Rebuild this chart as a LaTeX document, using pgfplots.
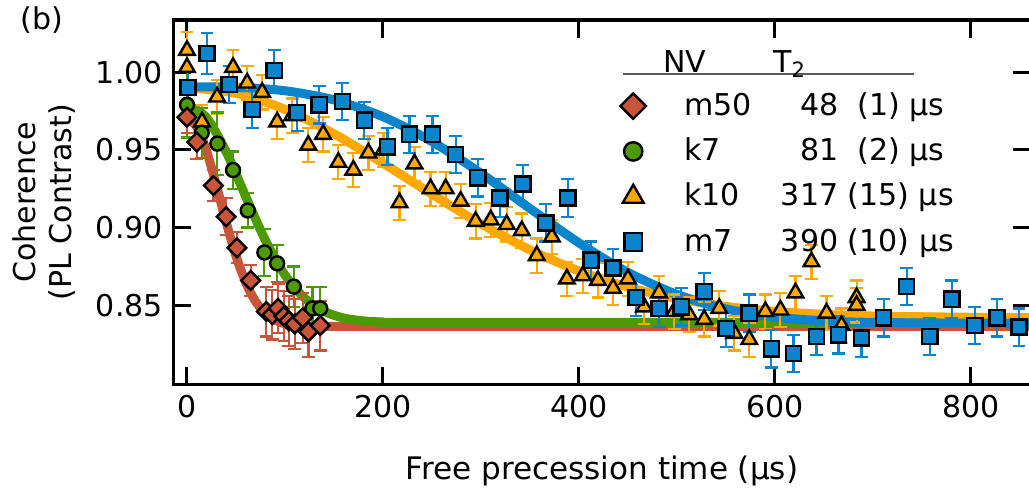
\documentclass[border=0pt]{standalone}
\usepackage{pgfplots}
\pgfplotsset{compat=1.18}
\usepackage{fontspec}
\setmainfont{DejaVu Sans}

\definecolor{cRed}{HTML}{C8553A}
\definecolor{cGreen}{HTML}{4C9900}
\definecolor{cOrange}{HTML}{FFA800}
\definecolor{cBlue}{HTML}{0A84CC}

\pgfplotsset{
  fit/.style={no markers, smooth, line width=4.5pt, color=#1},
  ebars/.style={error bars/.cd, y dir=both, y explicit,
    error bar style={line width=1.1pt, color=#1},
    error mark options={rotate=90, mark size=3.2pt, line width=1.1pt, color=#1}},
}

\begin{document}
\fontsize{15}{18}\selectfont
\begin{tikzpicture}
\begin{axis}[
  scale only axis, width=428pt, height=182pt,
  xmin=-14, xmax=861, ymin=0.799, ymax=1.0335,
  xtick={0,200,...,800}, ytick={0.85,0.90,0.95,1.00},
  yticklabel style={/pgf/number format/.cd, fixed, fixed zerofill, precision=2},
  /pgf/number format/assume math mode=true,
  tick align=inside, major tick length=9pt,
  tick style={line width=1.5pt, black},
  axis line style={line width=1.6pt},
  xlabel={Free precession time (µs)},
  xlabel style={yshift=-9pt, font=\fontsize{15.5}{18}\selectfont},
  ylabel={Coherence\\(PL Contrast)},
  ylabel style={align=center},
  legend cell align=left,
  legend style={at={(axis cs:442,0.9885)}, anchor=north west, draw=none, fill=none,
    inner sep=0pt, row sep=7pt, nodes={inner sep=1pt},
    /tikz/every odd column/.append style={column sep=18pt}},
]
% fits
\addplot[fit=cRed, forget plot] coordinates {(0,0.9705)(10,0.9648)(20,0.9491)(30,0.9272)(40,0.9034)(50,0.8818)(60,0.8646)(70,0.8525)(80,0.8448)(90,0.8405)(100,0.8382)(120,0.8368)(140,0.8365)(200,0.8365)(861,0.8365)};
\addplot[fit=cGreen, forget plot] coordinates {(0,0.979)(20,0.9707)(40,0.9487)(60,0.9199)(80,0.8918)(100,0.8695)(120,0.8546)(140,0.8461)(160,0.8418)(180,0.8400)(200,0.8393)(250,0.839)(861,0.839)};
\addplot[fit=cOrange, forget plot] coordinates {(0,0.990)(50,0.9864)(100,0.9760)(150,0.9603)(200,0.9414)(250,0.9215)(300,0.9024)(350,0.8857)(400,0.8721)(450,0.8617)(500,0.8543)(550,0.8493)(600,0.8461)(650,0.8442)(700,0.8431)(800,0.8423)(861,0.842)};
\addplot[fit=cBlue, forget plot] coordinates {(0,0.9905)(50,0.9902)(100,0.9880)(150,0.9821)(200,0.9713)(250,0.9553)(300,0.9349)(350,0.9123)(400,0.8902)(450,0.8712)(500,0.857)(550,0.8477)(600,0.8425)(650,0.8400)(700,0.8390)(800,0.8385)(861,0.8385)};

% k10
\addplot[forget plot, only marks, color=cOrange, mark=triangle*, mark size=4.5pt,
  mark options={fill=cOrange, draw=black, line width=1.2pt}, ebars=cOrange] coordinates {
(0,1.014)+-(0,0.012) (0,1.003)+-(0,0.012) (15.3,0.968)+-(0,0.011) (30.7,0.984)+-(0,0.011)
(47,1.003)+-(0,0.011) (61.4,0.993)+-(0,0.011) (76.7,0.987)+-(0,0.011) (92,0.968)+-(0,0.011)
(107.4,0.972)+-(0,0.011) (123.8,0.953)+-(0,0.011) (139,0.960)+-(0,0.011) (154.5,0.942)+-(0,0.011)
(169.8,0.937)+-(0,0.011) (185.2,0.948)+-(0,0.011) (200.5,0.950)+-(0,0.011) (216.9,0.916)+-(0,0.011)
(232.2,0.941)+-(0,0.011) (248.6,0.925)+-(0,0.011) (264,0.925)+-(0,0.011) (279.3,0.917)+-(0,0.011)
(294.6,0.904)+-(0,0.011) (310,0.905)+-(0,0.011) (326.3,0.902)+-(0,0.011) (341.7,0.898)+-(0,0.011)
(357,0.882)+-(0,0.011) (372.4,0.894)+-(0,0.011) (387.7,0.867)+-(0,0.011) (404,0.869)+-(0,0.011)
(419.4,0.866)+-(0,0.011) (434.8,0.861)+-(0,0.011) (450,0.867)+-(0,0.011) (466.5,0.849)+-(0,0.011)
(481.8,0.858)+-(0,0.011) (497.2,0.846)+-(0,0.011) (512.5,0.844)+-(0,0.011) (527.9,0.841)+-(0,0.011)
(543.2,0.848)+-(0,0.011) (558.6,0.832)+-(0,0.011) (573.9,0.828)+-(0,0.011) (590.3,0.846)+-(0,0.011)
(605.6,0.847)+-(0,0.011) (621,0.858)+-(0,0.011) (637.3,0.878)+-(0,0.011) (652.7,0.845)+-(0,0.011)
(668,0.837)+-(0,0.011) (683.4,0.855)+-(0,0.011) (683.4,0.850)+-(0,0.011)};

% m7
\addplot[forget plot, only marks, color=cBlue, mark=square*, mark size=3.8pt,
  mark options={fill=cBlue, draw=black, line width=1.2pt}, ebars=cBlue] coordinates {
(1,0.990)+-(0,0.012) (20.5,1.012)+-(0,0.013) (43,0.992)+-(0,0.012) (66.5,0.976)+-(0,0.012)
(89,1.001)+-(0,0.013) (112.5,0.974)+-(0,0.012) (135,0.979)+-(0,0.012) (158.6,0.981)+-(0,0.012)
(181,0.969)+-(0,0.012) (204.6,0.952)+-(0,0.012) (227,0.960)+-(0,0.012) (250.6,0.960)+-(0,0.012)
(274.2,0.947)+-(0,0.012) (296.7,0.932)+-(0,0.012) (319.2,0.919)+-(0,0.012) (342.7,0.928)+-(0,0.012)
(366.2,0.903)+-(0,0.012) (388.7,0.919)+-(0,0.012) (412.3,0.879)+-(0,0.012) (434.8,0.874)+-(0,0.012)
(458.3,0.855)+-(0,0.012) (481.8,0.848)+-(0,0.012) (504.3,0.849)+-(0,0.012) (527.9,0.859)+-(0,0.012)
(550.4,0.835)+-(0,0.012) (573.9,0.845)+-(0,0.012) (596.4,0.822)+-(0,0.012) (618.9,0.819)+-(0,0.012)
(642.5,0.830)+-(0,0.012) (665,0.831)+-(0,0.012) (688.5,0.829)+-(0,0.012) (711,0.842)+-(0,0.012)
(734.5,0.862)+-(0,0.012) (758,0.830)+-(0,0.012) (780.6,0.854)+-(0,0.012) (804,0.837)+-(0,0.012)
(826.6,0.842)+-(0,0.012) (849.1,0.836)+-(0,0.012)};

% k7
\addplot[forget plot, only marks, color=cGreen, mark=*, mark size=3.5pt,
  mark options={fill=cGreen, draw=black, line width=1.2pt}, ebars=cGreen] coordinates {
(0,0.979)+-(0,0.021) (15,0.961)+-(0,0.016) (31,0.954)+-(0,0.020) (47,0.937)+-(0,0.012)
(62,0.911)+-(0,0.011) (79,0.884)+-(0,0.015) (92,0.877)+-(0,0.012) (109,0.862)+-(0,0.013)
(128,0.848)+-(0,0.014) (136,0.848)+-(0,0.014)};

% m50
\addplot[forget plot, only marks, color=cRed, mark=square*, mark size=3.3pt,
  mark options={rotate=45, fill=cRed, draw=black, line width=1.2pt}, ebars=cRed] coordinates {
(0,0.971)+-(0,0.010) (10,0.955)+-(0,0.011) (27,0.927)+-(0,0.010) (40,0.907)+-(0,0.012)
(51,0.887)+-(0,0.010) (65,0.866)+-(0,0.010) (81,0.846)+-(0,0.016) (87,0.844)+-(0,0.016)
(93,0.848)+-(0,0.016) (99,0.843)+-(0,0.016) (104,0.840)+-(0,0.016) (110,0.838)+-(0,0.016)
(118,0.842)+-(0,0.016) (124,0.833)+-(0,0.016) (136,0.837)+-(0,0.016)};

% legend
\addlegendimage{only marks, mark=square*, mark size=4.5pt, mark options={rotate=45, fill=cRed, draw=black, line width=1.2pt}}
\addlegendentry{\makebox[42pt][l]{m50}\makebox[35pt][r]{48}\ \ (1) µs}
\addlegendimage{only marks, mark=*, mark size=4.6pt, mark options={fill=cGreen, draw=black, line width=1.2pt}}
\addlegendentry{\makebox[42pt][l]{k7}\makebox[35pt][r]{81}\ \ (2) µs}
\addlegendimage{only marks, mark=triangle*, mark size=6pt, mark options={fill=cOrange, draw=black, line width=1.2pt}}
\addlegendentry{\makebox[42pt][l]{k10}\makebox[35pt][r]{317}\ (15) µs}
\addlegendimage{only marks, mark=square*, mark size=4.4pt, mark options={fill=cBlue, draw=black, line width=1.2pt}}
\addlegendentry{\makebox[42pt][l]{m7}\makebox[35pt][r]{390}\ (10) µs}

\draw[line width=0.8pt, black!65] (axis cs:445,0.9987) -- (axis cs:742,0.9987);
\node[anchor=base] at (axis cs:508,1.0) {NV};
\node[anchor=base] at (axis cs:615,1.0) {T\textsubscript{2}};
\end{axis}
\node at ([shift={(-65.5pt,0pt)}]current axis.north west) {(b)};
\pgfresetboundingbox
\path ([shift={(-86.5pt,-57pt)}]current axis.south west) rectangle ([shift={(-0.8pt,10pt)}]current axis.north east);
\end{tikzpicture}
\end{document}
